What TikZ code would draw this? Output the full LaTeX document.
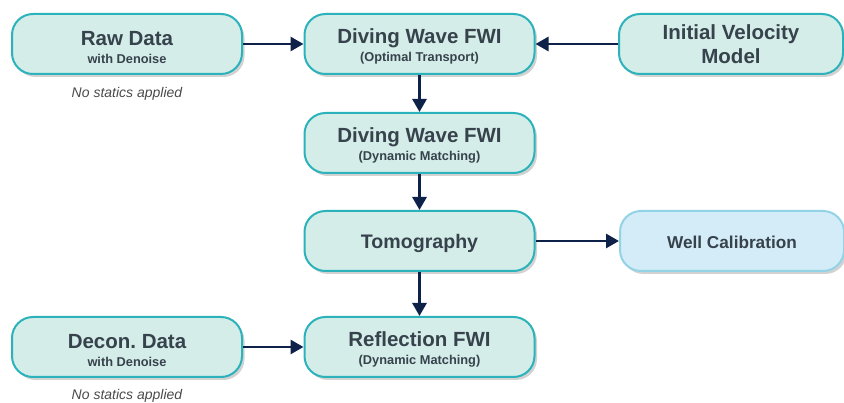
\documentclass[tikz,border=0pt]{standalone}
\usepackage{fontspec}
\setmainfont{Liberation Sans}
\usetikzlibrary{shadows,arrows.meta}
\frenchspacing
\definecolor{boxfill}{HTML}{D5EDE8}
\definecolor{boxdraw}{HTML}{2BB2BA}
\definecolor{wellfill}{HTML}{D4ECF7}
\definecolor{welldraw}{HTML}{92D3E6}
\definecolor{txt}{HTML}{36424C}
\definecolor{arr}{HTML}{0E2249}
\definecolor{note}{HTML}{4A4A4A}
\tikzset{
  procbox/.style={rounded corners=21pt, draw=boxdraw, fill=boxfill, line width=2pt,
    minimum width=230pt, minimum height=60pt, align=center, text=txt,
    inner sep=0pt, drop shadow={shadow xshift=2.5pt, shadow yshift=-3pt, fill=black!35, opacity=0.5}},
  wellbox/.style={procbox, draw=welldraw, fill=wellfill},
  twoline/.style={font=\fontsize{20.5}{18}\selectfont\bfseries},
  notetext/.style={font=\fontsize{14}{16}\selectfont\itshape, text=note},
  conn/.style={draw=arr, line width=2.8pt, -{Triangle[length=13pt,width=14pt]}}
}
\newcommand{\subl}[1]{{\fontsize{12.8}{15}\selectfont\bfseries #1}}
\newcommand{\dn}{\rule{0pt}{20.5pt}}
\begin{document}
\begin{tikzpicture}[x=1pt,y=-1pt]
\useasboundingbox (0,0) rectangle (844,403);
\node[procbox, twoline] (raw) at (127,44) {\dn Raw Data\\\subl{with Denoise}};
\node[procbox, twoline] (dwot) at (419.5,44) {\dn Diving Wave FWI\\\subl{(Optimal Transport)}};
\node[procbox, minimum width=224pt, font=\fontsize{20.5}{24}\selectfont\bfseries] (init) at (731,44) {Initial Velocity\\Model};
\node[procbox, twoline] (dwdm) at (419.5,143) {\dn Diving Wave FWI\\\subl{(Dynamic Matching)}};
\node[procbox, font=\fontsize{19.6}{22}\selectfont\bfseries] (tomo) at (419.5,241) {\rule{0pt}{19pt}Tomography};
\node[wellbox, minimum width=224pt, font=\fontsize{17.2}{20}\selectfont\bfseries] (well) at (732,241) {\rule{0pt}{15pt}Well Calibration};
\node[procbox, twoline] (decon) at (127,347) {\dn Decon.\ Data\\\subl{with Denoise}};
\node[procbox, twoline] (refl) at (419.5,347) {\dn Reflection FWI\\\subl{(Dynamic Matching)}};
\node[notetext] (n1) at (127,94) {No statics applied};
\node[notetext] (n2) at (127,396) {No statics applied};
\draw[conn] (raw) -- (dwot);
\draw[conn] (init) -- (dwot);
\draw[conn] (dwot) -- (dwdm);
\draw[conn] (dwdm) -- (tomo);
\draw[conn] (tomo) -- (well);
\draw[conn] (tomo) -- (refl);
\draw[conn] (decon) -- (refl);
\end{tikzpicture}
\end{document}
